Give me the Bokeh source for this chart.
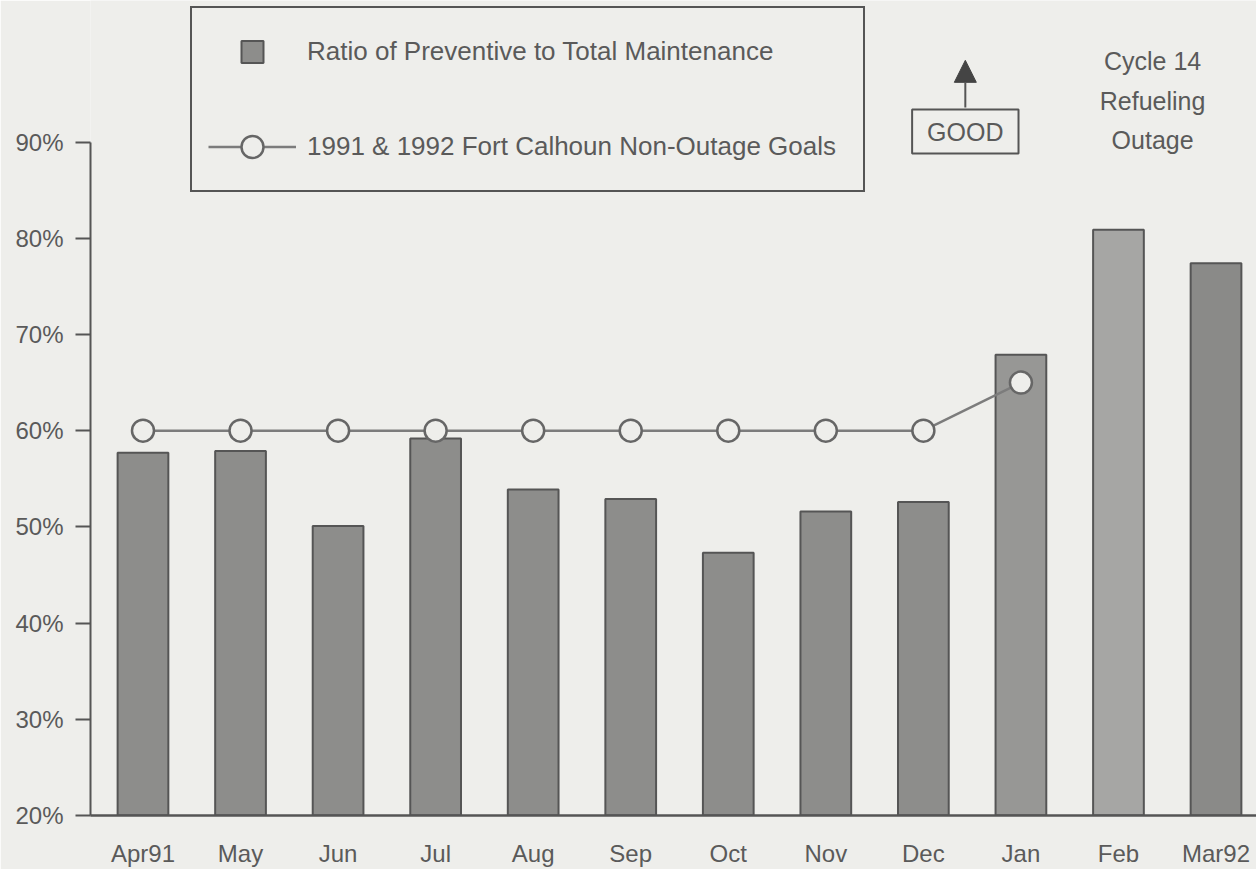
from bokeh.plotting import figure
from bokeh.models import (Range1d, FixedTicker, ColumnDataSource, Legend, LegendItem,
                          Label, Arrow, NormalHead)
from bokeh.embed import file_html
from bokeh.resources import INLINE

# ---- data ----
months = ["Apr91", "May", "Jun", "Jul", "Aug", "Sep", "Oct", "Nov", "Dec", "Jan", "Feb", "Mar92"]
ratio_pct = [57.7, 57.9, 50.1, 59.2, 53.9, 52.9, 47.3, 51.6, 52.6, 67.9, 80.9, 77.4]
goal_months = ["Apr91", "May", "Jun", "Jul", "Aug", "Sep", "Oct", "Nov", "Dec", "Jan"]
goal_pct = [60, 60, 60, 60, 60, 60, 60, 60, 60, 65]
y_ticks = [20, 30, 40, 50, 60, 70, 80, 90]
y_tick_labels = ["20%", "30%", "40%", "50%", "60%", "70%", "80%", "90%"]

# ---- styles ----
PAPER = "#eeeeeb"
INK = "#5a5a5a"
FONT = "Liberation Sans"
bar_shades = ["#8d8d8b"] * 9 + ["#979795", "#a6a6a4", "#8a8a88"]

x_idx = list(range(len(months)))
bar_src = ColumnDataSource(dict(x=x_idx, top=ratio_pct, month=months, color=bar_shades))
goal_src = ColumnDataSource(dict(x=[months.index(m) for m in goal_months], y=goal_pct))

p = figure(width=1256, height=869, output_backend="svg", toolbar_location=None,
           x_range=Range1d(-0.538, 11.415), y_range=Range1d(20, 20 + 815 / 9.62),
           min_border_left=90, min_border_right=0, min_border_top=0, min_border_bottom=54)
p.background_fill_color = PAPER
p.border_fill_color = PAPER
p.outline_line_color = None
p.grid.visible = False

bars = p.vbar(x="x", top="top", bottom=20, width=0.52, source=bar_src,
              fill_color="color", line_color="#555555", line_width=2)
goal_line = p.line(x="x", y="y", source=goal_src, line_color="#7c7c7c", line_width=2.5)
goal_pts = p.scatter(x="x", y="y", source=goal_src, marker="circle", size=22,
                     fill_color=PAPER, line_color="#666666", line_width=2.5)
# legend proxy for the bars (a small square swatch, not drawn in the plot)
legend_square = p.scatter(x="x", y="top", source=bar_src, marker="square", size=18,
                          fill_color="#8d8d8b", line_color="#555555", line_width=2,
                          visible=False)

# axes
xa = p.xaxis[0]
xa.ticker = FixedTicker(ticks=x_idx)
xa.major_label_overrides = {i: m for i, m in zip(x_idx, months)}
xa.major_tick_line_color = None
xa.major_tick_out = 0
xa.major_tick_in = 0
xa.minor_tick_line_color = None
xa.axis_line_color = "#555555"
xa.axis_line_width = 2.5
xa.major_label_text_font = FONT
xa.major_label_text_font_size = "24px"
xa.major_label_text_color = INK
xa.major_label_standoff = 24

ya = p.yaxis[0]
ya.ticker = FixedTicker(ticks=y_ticks)
ya.major_label_overrides = {t: s for t, s in zip(y_ticks, y_tick_labels)}
ya.bounds = (20, 90)
ya.axis_line_color = "#555555"
ya.axis_line_width = 2
ya.major_tick_line_color = "#555555"
ya.major_tick_line_width = 2
ya.major_tick_out = 15
ya.major_tick_in = 0
ya.minor_tick_line_color = None
ya.major_label_text_font = FONT
ya.major_label_text_font_size = "24px"
ya.major_label_text_color = INK
ya.major_label_standoff = 12

# legend
legend = Legend(items=[
    LegendItem(label="Ratio of Preventive to Total Maintenance", renderers=[legend_square]),
    LegendItem(label="1991 & 1992 Fort Calhoun Non-Outage Goals", renderers=[goal_line, goal_pts]),
], location=(100, 623), orientation="vertical",
    glyph_width=88, glyph_height=55, label_height=55, label_width=540,
    label_standoff=11, spacing=40, padding=16, margin=0,
    label_text_font=FONT, label_text_font_size="26px", label_text_color=INK,
    border_line_color="#555555", border_line_width=2, border_line_alpha=1.0,
    background_fill_color=PAPER, background_fill_alpha=1.0,
    inactive_fill_alpha=0.0)
p.add_layout(legend)

# annotations
p.add_layout(Arrow(end=NormalHead(size=22, fill_color="#444444", line_color="#444444"),
                   x_start=8.43, y_start=93.6, x_end=8.43, y_end=98.5,
                   line_color="#555555", line_width=2))
p.add_layout(Label(x=8.43, y=91.1, text="GOOD", text_align="center", text_baseline="middle",
                   text_font=FONT, text_font_size="25px", text_color=INK,
                   border_line_color="#555555", border_line_width=2,
                   background_fill_color=PAPER, padding=(15, 8)))
for txt, yy in [("Cycle 14", 98.4), ("Refueling", 94.3), ("Outage", 90.2)]:
    p.add_layout(Label(x=10.35, y=yy, text=txt, text_align="center", text_baseline="middle",
                       text_font=FONT, text_font_size="25px", text_color=INK))

open("out.html", "w").write(file_html(p, INLINE))
